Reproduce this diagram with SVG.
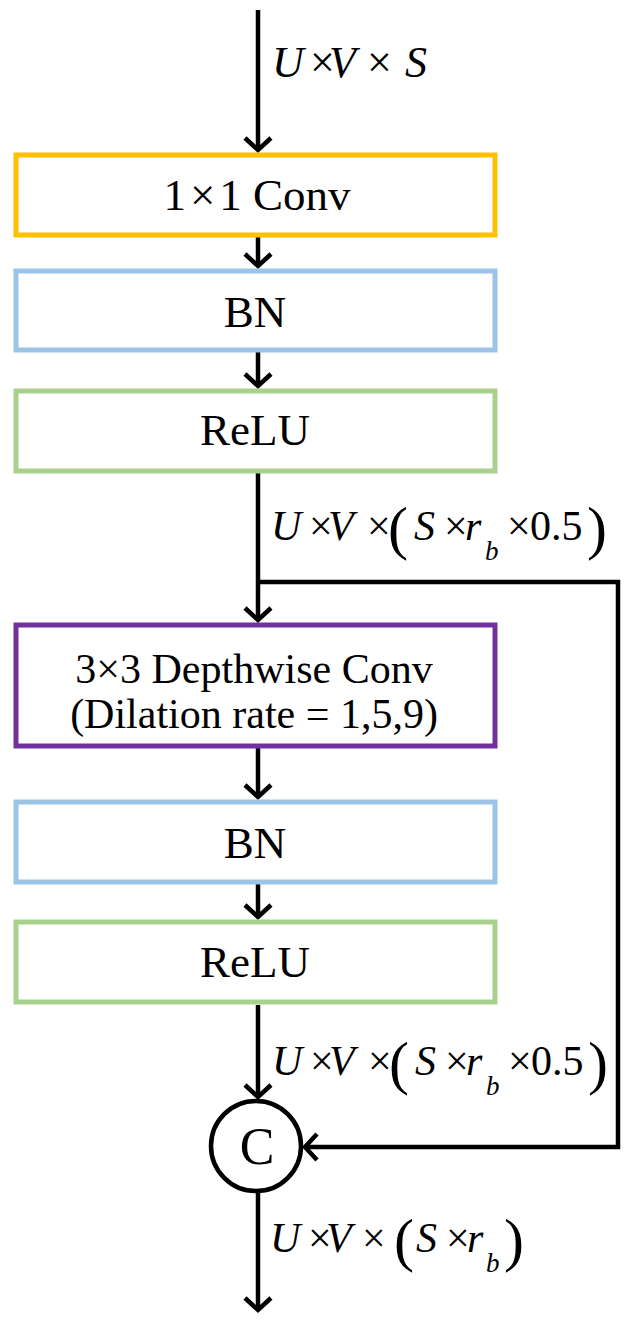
<svg xmlns="http://www.w3.org/2000/svg" width="638" height="1324" viewBox="0 0 638 1324">
<defs>
<marker id="ah" viewBox="-16 -16 20 32" refX="0" refY="0" markerWidth="20" markerHeight="32" markerUnits="userSpaceOnUse" orient="auto">
<path d="M-12,-13 L0,0 L-12,13" fill="none" stroke="#000" stroke-width="4.5"/>
</marker>
</defs>
<g id="connectors">
<g fill="none" stroke="#000" stroke-width="4.5" marker-end="url(#ah)">
<path d="M258,10 V150"/>
<path d="M258,237 V266"/>
<path d="M258,352 V386"/>
<path d="M258,473 V620"/>
<path d="M258,582 H618 V1147 H305"/>
<path d="M258,748 V797"/>
<path d="M258,884 V917"/>
<path d="M258,1005 V1097"/>
<path d="M258,1192 V1310"/>
</g>
<text font-family="Liberation Serif" font-size="44" y="77"><tspan font-style="italic" x="272">U</tspan><tspan x="310">&#215;</tspan><tspan font-style="italic" x="329">V</tspan><tspan x="367">&#215;</tspan><tspan font-style="italic" x="405">S</tspan></text>
<text font-family="Liberation Serif" font-size="42" y="540"><tspan font-style="italic" x="271">U</tspan><tspan x="309">&#215;</tspan><tspan font-style="italic" x="328">V</tspan><tspan x="367">&#215;</tspan><tspan font-size="60" x="388" dy="8">(</tspan><tspan font-style="italic" x="414" dy="-8">S</tspan><tspan x="444">&#215;</tspan><tspan font-style="italic" x="465">r</tspan><tspan font-size="27" font-style="italic" x="485" dy="20">b</tspan><tspan x="507" dy="-20">&#215;</tspan><tspan x="530">0.5</tspan><tspan font-size="60" x="587" dy="8">)</tspan></text>
<text font-family="Liberation Serif" font-size="42" y="1075"><tspan font-style="italic" x="272">U</tspan><tspan x="310">&#215;</tspan><tspan font-style="italic" x="329">V</tspan><tspan x="368">&#215;</tspan><tspan font-size="60" x="389" dy="8">(</tspan><tspan font-style="italic" x="415" dy="-8">S</tspan><tspan x="445">&#215;</tspan><tspan font-style="italic" x="466">r</tspan><tspan font-size="27" font-style="italic" x="486" dy="20">b</tspan><tspan x="508" dy="-20">&#215;</tspan><tspan x="531">0.5</tspan><tspan font-size="60" x="588" dy="8">)</tspan></text>
<text font-family="Liberation Serif" font-size="42" y="1252"><tspan font-style="italic" x="270">U</tspan><tspan x="308">&#215;</tspan><tspan font-style="italic" x="326">V</tspan><tspan x="362">&#215;</tspan><tspan font-size="60" x="394" dy="8">(</tspan><tspan font-style="italic" x="416" dy="-8">S</tspan><tspan x="446">&#215;</tspan><tspan font-style="italic" x="467">r</tspan><tspan font-size="27" font-style="italic" x="486" dy="20">b</tspan><tspan font-size="60" x="504" dy="-12">)</tspan></text>
</g>
<g id="conv1x1"><rect x="16" y="155" width="479" height="80" fill="#fff" stroke="#FFC000" stroke-width="5"/><text font-family="Liberation Serif" font-size="45" text-anchor="middle" x="257" y="210">1<tspan dx="4">&#215;</tspan><tspan dx="4">1 Conv</tspan></text></g>
<g id="bn1"><rect x="16" y="271" width="479" height="79" fill="#fff" stroke="#9DC3E6" stroke-width="5"/><text font-family="Liberation Serif" font-size="45" text-anchor="middle" x="255" y="327">BN</text></g>
<g id="relu1"><rect x="16" y="391" width="479" height="80" fill="#fff" stroke="#A9D18E" stroke-width="5"/><text font-family="Liberation Serif" font-size="45" text-anchor="middle" x="255" y="445">ReLU</text></g>
<g id="dwconv"><rect x="16" y="625" width="479" height="121" fill="#fff" stroke="#7030A0" stroke-width="5"/><text font-family="Liberation Serif" font-size="42" text-anchor="middle" x="254" y="683">3&#215;3 Depthwise Conv</text><text font-family="Liberation Serif" font-size="42" text-anchor="middle" x="254" y="728">(Dilation rate = 1,5,9)</text></g>
<g id="bn2"><rect x="16" y="802" width="479" height="80" fill="#fff" stroke="#9DC3E6" stroke-width="5"/><text font-family="Liberation Serif" font-size="45" text-anchor="middle" x="255" y="858">BN</text></g>
<g id="relu2"><rect x="16" y="922" width="479" height="80" fill="#fff" stroke="#A9D18E" stroke-width="5"/><text font-family="Liberation Serif" font-size="45" text-anchor="middle" x="255" y="977">ReLU</text></g>
<g id="concat"><circle cx="256" cy="1146" r="45" fill="#fff" stroke="#000" stroke-width="4.5"/><text font-family="Liberation Serif" font-size="52" text-anchor="middle" x="257" y="1164">C</text></g>
</svg>
